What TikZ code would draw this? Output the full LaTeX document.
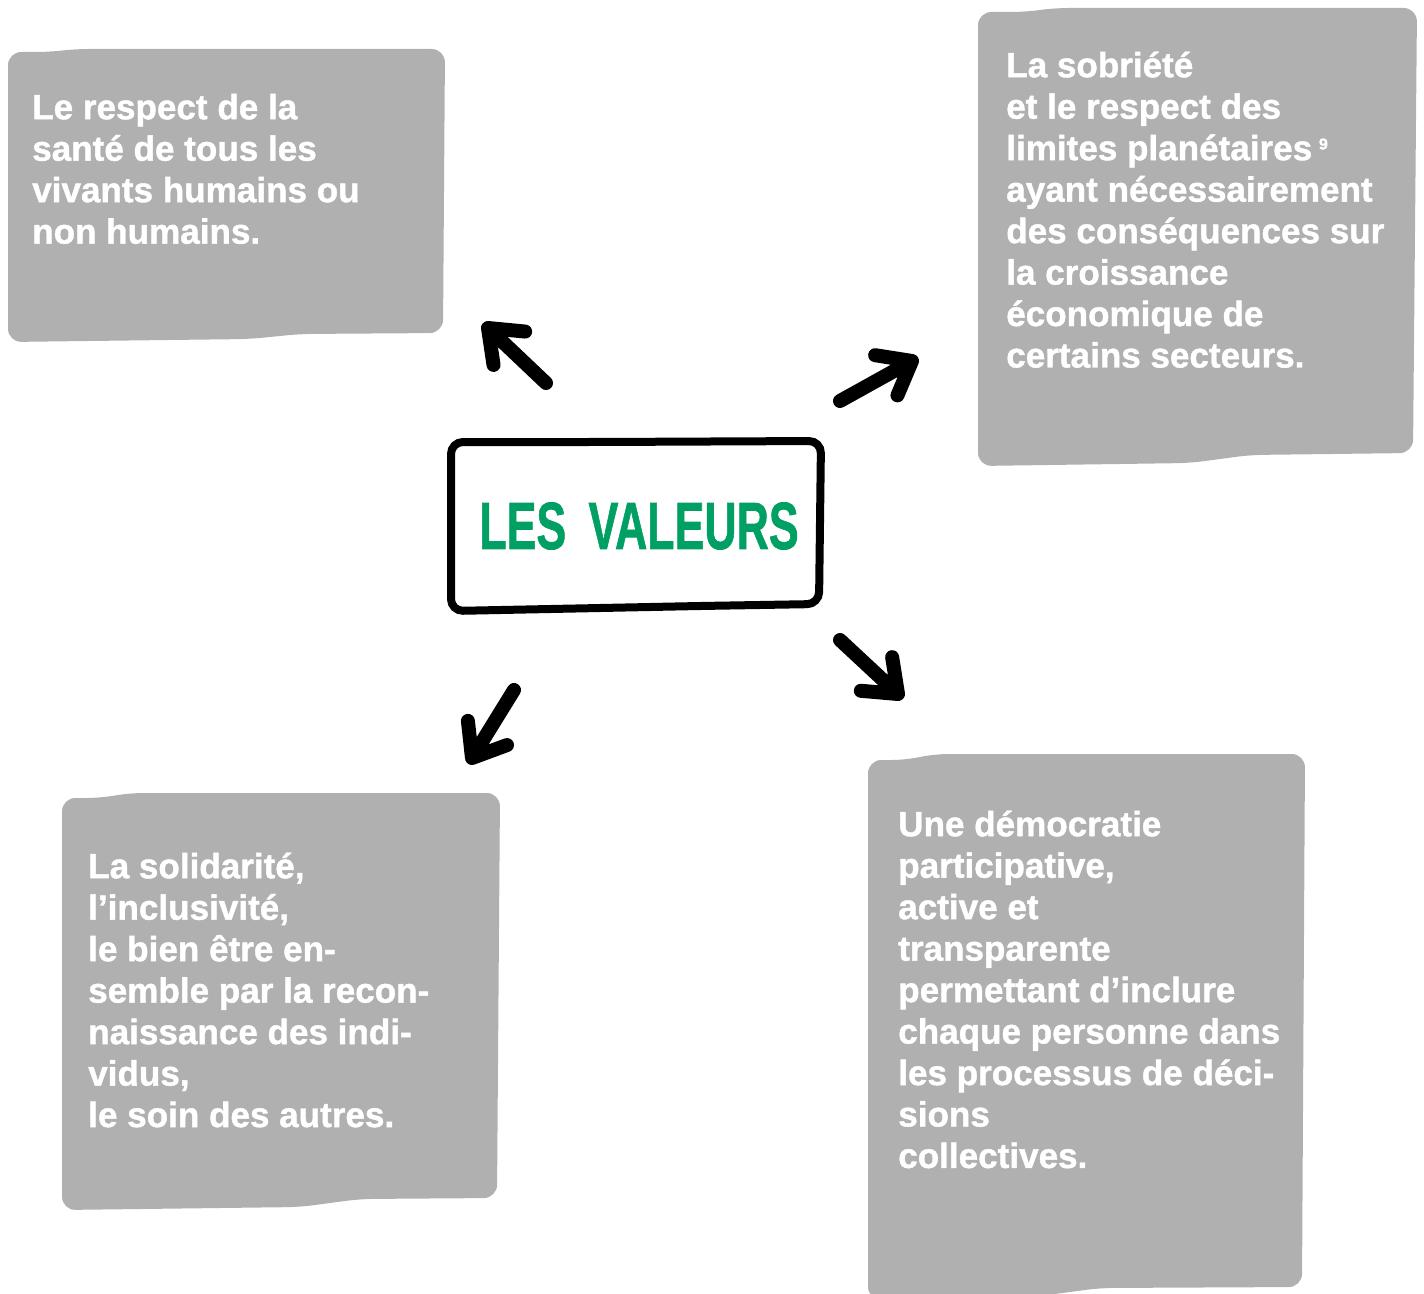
\documentclass[tikz,border=0pt]{standalone}
\usepackage{fontspec}
\setmainfont{Liberation Sans}[BoldFeatures={FakeBold=1.2}]
\usetikzlibrary{calc}
\definecolor{boxgrey}{RGB}{176,176,176}
\definecolor{valgreen}{RGB}{0,160,100}
\begin{document}
\begin{tikzpicture}[x=0.75pt,y=-0.75pt,
  greybox/.style={fill=boxgrey, rounded corners=10pt},
  boxtext/.style={anchor=north west, inner sep=0pt, align=left, text=white,
    font=\bfseries\fontsize{26.3}{31.1}\selectfont},
  brush/.style={draw=black, line width=10.5pt, line cap=round, line join=round},
  frame/.style={draw=black, line width=6pt, rounded corners=9pt, fill=white},
  titletext/.style={inner sep=0pt, text=valgreen, font=\bfseries\fontsize{50}{50}\selectfont}]
\useasboundingbox (0,0) rectangle (1424,1294);

% grey boxes
\fill[greybox] (8,52) -- (50,52) -- (75,49) -- (445,49) -- (443,333) -- (300,334) -- (250,339) -- (8,342) -- cycle;
\fill[greybox] (978,12) -- (1025,12) -- (1055,8) -- (1417,8) -- (1413,453) -- (1250,455) -- (1190,463) -- (978,466) -- cycle;
\fill[greybox] (62,798) -- (100,798) -- (130,793) -- (500,793) -- (497,1198) -- (360,1199) -- (300,1207) -- (62,1210) -- cycle;
\fill[greybox] (868,760) -- (905,760) -- (935,754) -- (1305,754) -- (1302,1287) -- (1100,1288) -- (1040,1296) -- (868,1300) -- cycle;

% texts
\node[boxtext] (t1) at (32,84.3) {\rule{0pt}{26pt}Le respect de la\\santé de tous les\\vivants humains ou\\non humains.};
\node[boxtext] (t2) at (1006,42.3) {\rule{0pt}{26pt}La sobriété\\et le respect des\\limites planétaires\kern5pt\raisebox{8pt}{\fontsize{12}{12}\selectfont 9}\\ayant nécessairement\\des conséquences sur\\la croissance\\économique de\\certains secteurs.};
\node[boxtext] (t3) at (88,843.3) {\rule{0pt}{26pt}La solidarité,\\l’inclusivité,\\le bien être en-\\semble par la recon-\\naissance des indi-\\vidus,\\le soin des autres.};
\node[boxtext] (t4) at (898,801.3) {\rule{0pt}{26pt}Une démocratie\\participative,\\active et\\transparente\\permettant d’inclure\\chaque personne dans\\les processus de déci-\\sions\\collectives.};

% central frame
\draw[frame] (451,442) -- (600,442) -- (821,441) -- (819,604) -- (700,606) -- (451,611) -- cycle;
\node[titletext] (title) at (639,526) {\scalebox{0.67}[1]{LES\kern25pt VALEURS}};

% arrows
\coordinate (a1s) at (546,383); \coordinate (a1t) at (488,328);
\coordinate (a2s) at (840,401); \coordinate (a2t) at (912,361);
\coordinate (a3s) at (840,640); \coordinate (a3t) at (898,694);
\coordinate (a4s) at (514,690); \coordinate (a4t) at (472,758);
\foreach \s/\t in {a1s/a1t,a2s/a2t,a3s/a3t,a4s/a4t}{
  \draw[brush] (\s) -- (\t) -- ($(\t)!28pt!38:(\s)$) (\t) -- ($(\t)!28pt!-38:(\s)$);
}
\end{tikzpicture}
\end{document}
